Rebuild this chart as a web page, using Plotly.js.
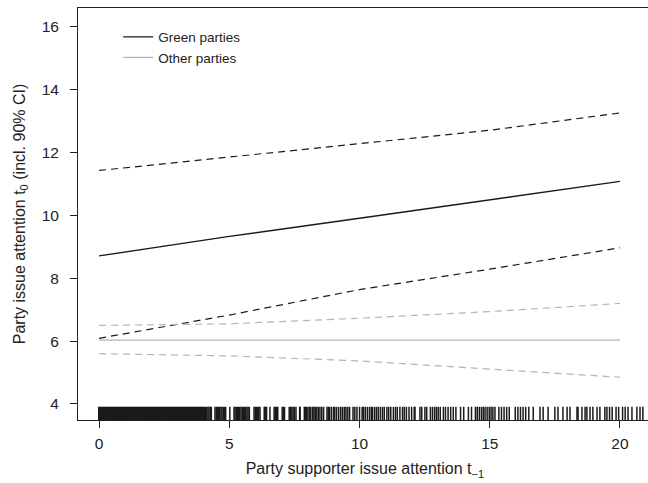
<!DOCTYPE html>
<html>
<head>
<meta charset="utf-8">
<script src="https://cdn.plot.ly/plotly-3.0.1.min.js"></script>
<style>
html,body{margin:0;padding:0;width:648px;height:483px;overflow:hidden;background:#fff;}
#chart{width:664px;height:483px;}
</style>
</head>
<body>
<div id="chart"></div>
<script>
// x grid for the predicted lines
const xVals = [0, 5, 10, 15, 20];
// Green parties: estimate and 90% CI
const greenFit   = [8.71, 9.33, 9.91, 10.49, 11.08];
const greenUpper = [11.43, 11.85, 12.27, 12.71, 13.26];
const greenLower = [6.09, 6.83, 7.64, 8.29, 8.97];
// Other parties: estimate and 90% CI
const otherFit   = [6.03, 6.03, 6.03, 6.03, 6.03];
const otherUpper = [6.50, 6.55, 6.73, 6.94, 7.20];
const otherLower = [5.60, 5.53, 5.37, 5.11, 4.85];
// rug: observed party supporter issue attention values (densely packed low values)
const rugDense = [
 0,0.05,0.1,0.15,0.2,0.25,0.3,0.35,0.4,0.45,0.5,0.55,0.6,0.65,0.7,0.75,0.8,0.85,0.9,0.95,
 1,1.05,1.1,1.15,1.2,1.25,1.3,1.35,1.4,1.45,1.5,1.55,1.6,1.65,1.7,1.75,1.8,1.85,1.9,1.95,
 2,2.05,2.1,2.15,2.2,2.25,2.3,2.35,2.4,2.45,2.5,2.55,2.6,2.65,2.7,2.75,2.8,2.85,2.9,2.95,
 3,3.05,3.1,3.15,3.2,3.25,3.3,3.35,3.4,3.45,3.5,3.55,3.6,3.65,3.7,3.75,3.8,3.85,3.9,3.95,4.0
];
// rug: remaining observed values
const rugSparse = [
 4.04,4.09,4.13,4.18,4.22,4.27,4.31,4.45,4.5,4.54,4.59,4.63,4.68,4.72,4.77,4.82,4.86,5.02,
 5.18,5.22,5.27,5.31,5.36,5.4,5.45,5.5,5.54,5.59,5.63,5.68,5.72,5.77,5.95,6.0,6.04,6.09,
 6.13,6.18,6.34,6.38,6.43,6.56,6.72,6.77,6.81,6.86,7.03,7.08,7.12,7.3,7.35,7.4,7.45,7.5,
 7.56,7.7,7.72,7.88,7.92,7.97,8.02,8.08,8.13,
 8.2,8.25,8.3,8.36,8.42,8.48,8.55,8.62,8.75,8.8,8.85,8.92,9.0,9.05,9.12,9.2,9.28,9.35,
 9.42,9.48,9.55,9.62,9.75,9.82,9.9,10.0,10.1,10.15,10.22,10.3,10.38,10.45,10.5,10.58,
 10.65,10.72,10.8,10.88,10.95,11.05,11.12,11.2,11.3,11.38,11.45,11.55,11.65,11.72,11.8,
 11.9,12.0,12.1,
 12.13,12.32,12.39,12.51,12.58,12.72,12.8,12.88,12.95,13.02,13.1,13.22,13.3,13.4,13.5,
 13.6,13.7,13.88,14.0,14.18,14.3,14.45,14.52,14.6,14.68,14.75,14.82,14.9,14.98,15.05,
 15.12,15.2,15.35,15.45,15.55,15.65,15.75,15.98,16.08,
 16.18,16.28,16.38,16.5,16.67,16.93,17.05,17.24,17.5,17.62,17.81,17.97,18.08,18.35,18.39,
 18.54,18.66,18.73,18.85,18.96,19.12,19.23,19.42,19.5,19.6,19.7,19.85,19.95,20.1,20.2,
 20.31,20.46,20.65,20.77,20.88
];
const legendNames = ["Green parties", "Other parties"];

const black = "#1a1a1a";
const gray = "#b4b4b4";
const dashPat = "7px,5px";

// rug ticks: vertical segments from the bottom of the plot upward
const rugBottom = 3.49, rugTop = 3.91;
function rugTrace(vals, w) {
  return {x: vals.flatMap(v => [v, v, null]), y: vals.flatMap(() => [rugBottom, rugTop, null]),
          mode: "lines", showlegend: false, hoverinfo: "skip", connectgaps: false,
          line: {color: black, width: w, simplify: false}};
}

const traces = [
  {x: xVals, y: greenUpper, mode: "lines", line: {color: black, width: 1.2, dash: dashPat}, showlegend: false, hoverinfo: "skip"},
  {x: xVals, y: greenLower, mode: "lines", line: {color: black, width: 1.2, dash: dashPat}, showlegend: false, hoverinfo: "skip"},
  {x: xVals, y: otherUpper, mode: "lines", line: {color: gray, width: 1.2, dash: dashPat}, showlegend: false, hoverinfo: "skip"},
  {x: xVals, y: otherLower, mode: "lines", line: {color: gray, width: 1.2, dash: dashPat}, showlegend: false, hoverinfo: "skip"},
  {x: xVals, y: greenFit, mode: "lines", name: legendNames[0], line: {color: black, width: 1.3}},
  {x: xVals, y: otherFit, mode: "lines", name: legendNames[1], line: {color: gray, width: 1.3}},
  rugTrace(rugDense, 2.2),
  rugTrace(rugSparse, 1.5)
];

const layout = {
  width: 664, height: 483,
  margin: {l: 78, r: 12, t: 8, b: 63},
  paper_bgcolor: "#fff", plot_bgcolor: "#fff",
  font: {family: "Liberation Sans, Arial, sans-serif", size: 15.5, color: "#222"},
  showlegend: true,
  legend: {x: 0.07, y: 0.967, xanchor: "left", yanchor: "top", bgcolor: "rgba(0,0,0,0)",
           font: {size: 13.5, color: "#222"}, tracegroupgap: 0, itemwidth: 30},
  xaxis: {
    range: [-0.81, 21.23], tickvals: [0, 5, 10, 15, 20], ticktext: ["0", "5", "10", "15", "20"],
    ticks: "outside", ticklen: 7, tickcolor: "#222", tickwidth: 1,
    showgrid: false, zeroline: false, showline: true, linecolor: "#222", linewidth: 1, mirror: true,
    tickfont: {size: 15.5}, ticklabelstandoff: 2,
    title: {text: "Party supporter issue attention t<sub>\u22121</sub>", font: {size: 16}, standoff: 12}
  },
  yaxis: {
    range: [3.49, 16.6], tickvals: [4, 6, 8, 10, 12, 14, 16], ticktext: ["4", "6", "8", "10", "12", "14", "16"],
    ticks: "outside", ticklen: 7, tickcolor: "#222", tickwidth: 1,
    showgrid: false, zeroline: false, showline: true, linecolor: "#222", linewidth: 1, mirror: true,
    tickfont: {size: 15.5}, ticklabelstandoff: 8,
    title: {text: "Party issue attention t<sub>0</sub> (incl. 90% CI)", font: {size: 16}, standoff: 12}
  }
};

Plotly.newPlot("chart", traces, layout, {displayModeBar: false, staticPlot: true});
</script>
</body>
</html>
